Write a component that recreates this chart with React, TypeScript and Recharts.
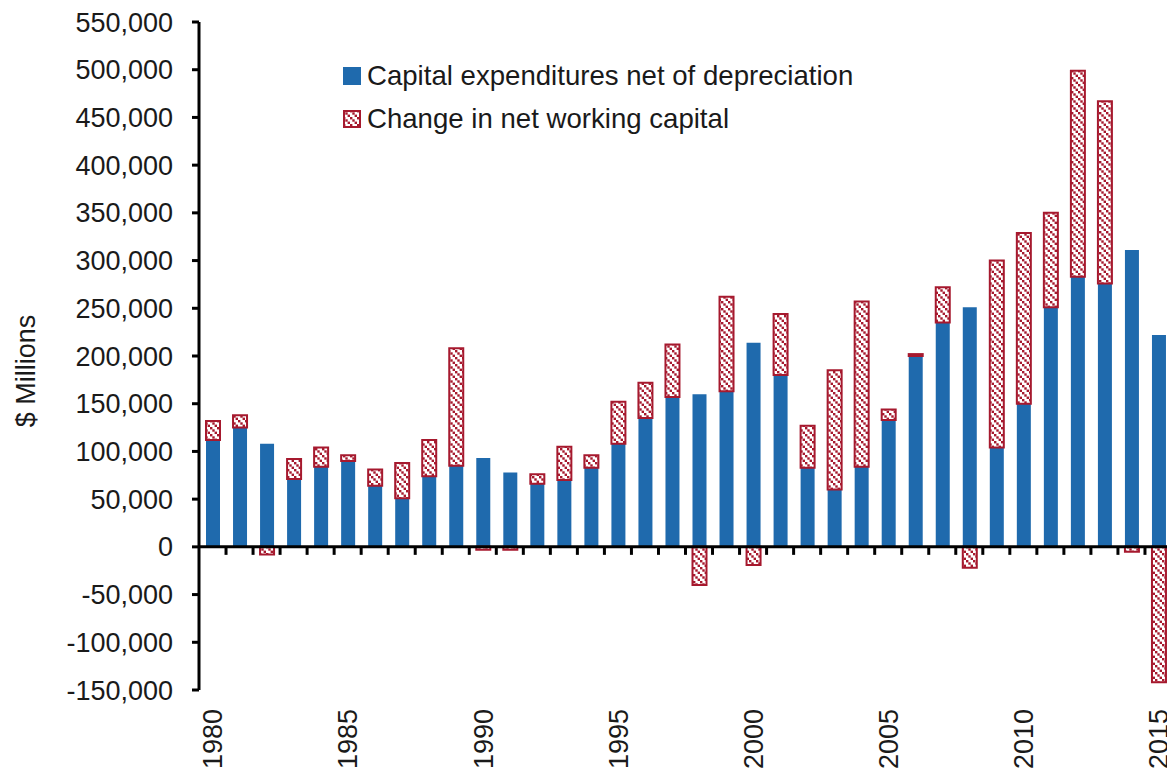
import { BarChart, Bar, XAxis, YAxis, ReferenceLine, Cell } from 'recharts';

const years = [
  1980, 1981, 1982, 1983, 1984, 1985, 1986, 1987, 1988, 1989,
  1990, 1991, 1992, 1993, 1994, 1995, 1996, 1997, 1998, 1999,
  2000, 2001, 2002, 2003, 2004, 2005, 2006, 2007, 2008, 2009,
  2010, 2011, 2012, 2013, 2014, 2015,
];

const capexNetDep = [
  112000, 125000, 108000, 71000, 84000, 90000, 64000, 51000, 74000, 85000,
  93000, 78000, 66000, 70000, 83000, 108000, 135000, 157000, 160000, 163000,
  214000, 180000, 83000, 60000, 84000, 133000, 200000, 235000, 251000, 104000,
  150000, 251000, 283000, 276000, 311000, 222000,
];

const nwcChange = [
  20000, 13000, -8000, 21000, 20000, 6000, 17000, 37000, 38000, 123000,
  -3000, -3000, 10000, 35000, 13000, 44000, 37000, 55000, -40000, 99000,
  -19000, 64000, 44000, 125000, 173000, 11000, 2000, 37000, -22000, 196000,
  179000, 99000, 216000, 191000, -5000, -142000,
];

const yTicks = [-150000, -100000, -50000, 0, 50000, 100000, 150000, 200000, 250000, 300000, 350000, 400000, 450000, 500000, 550000];

const BLUE = '#1f6aad';
const RED = '#a6192e';
const FONT = '"Liberation Sans", Arial, sans-serif';
const TEXT = '#1a1a1a';

const data = years.map((year, i) => ({ year, capex: capexNetDep[i], nwc: nwcChange[i] }));

function HatchDef({ id }: { id: string }) {
  return (
    <pattern id={id} width="7" height="7" patternUnits="userSpaceOnUse">
      <rect width="7" height="7" fill="#fff" />
      <rect x="0" y="0" width="2.4" height="2.4" fill={RED} />
      <rect x="2.3" y="2.3" width="2.4" height="2.4" fill={RED} />
      <rect x="4.6" y="4.6" width="2.4" height="2.4" fill={RED} />
    </pattern>
  );
}

// x-axis line at zero with a tick at every category boundary
function ZeroAxis(props: any) {
  const { x1, x2, y1 } = props;
  const step = (x2 - x1) / years.length;
  return (
    <g>
      <line x1={x1} x2={x2} y1={y1} y2={y1} stroke="#000" strokeWidth={3} />
      {years.map((_, i) => (
        <line key={i} x1={x1 + (i + 1) * step} x2={x1 + (i + 1) * step} y1={y1} y2={y1 + 8} stroke="#000" strokeWidth={3} />
      ))}
    </g>
  );
}

function YearTick(props: any) {
  const { x, y, payload } = props;
  if (payload.value % 5 !== 0) return null;
  return (
    <text x={x} y={y} dy="0.36em" transform={`rotate(-90, ${x}, ${y})`} textAnchor="end"
      fontSize={27} fontFamily={FONT} fill={TEXT}>
      {payload.value}
    </text>
  );
}

function YLabel(props: any) {
  const { viewBox } = props;
  const cy = viewBox.y + viewBox.height / 2 + 15;
  return (
    <text x={25} y={cy} dy="0.36em" transform={`rotate(-90, 25, ${cy})`} textAnchor="middle"
      fontSize={27} fontFamily={FONT} fill={TEXT}>
      $ Millions
    </text>
  );
}

function LegendBox() {
  const row = { display: 'flex', alignItems: 'center', height: 43, fontSize: 27.6, fontFamily: FONT, color: TEXT, whiteSpace: 'nowrap' as const };
  return (
    <div style={{ position: 'absolute', left: 343, top: 54 }}>
      <div style={row}>
        <div style={{ width: 18, height: 18, background: BLUE, marginRight: 6 }} />
        Capital expenditures net of depreciation
      </div>
      <div style={row}>
        <svg width={18} height={18} style={{ marginRight: 6 }}>
          <defs><HatchDef id="legendHatch" /></defs>
          <rect x={1} y={1} width={16} height={16} fill="url(#legendHatch)" stroke={RED} strokeWidth={2} />
        </svg>
        Change in net working capital
      </div>
    </div>
  );
}

export default function App() {
  return (
    <div style={{ position: 'absolute', left: 0, top: 0, width: 1167, height: 768, overflow: 'hidden', background: '#fff' }}>
      <BarChart width={1172} height={780} data={data} stackOffset="sign" barSize={14}
        margin={{ top: 22, right: 0, bottom: 0, left: 0 }}>
        <defs><HatchDef id="nwcHatch" /></defs>
        <XAxis dataKey="year" interval={0} axisLine={false} tickLine={false} tickSize={0} tickMargin={19}
          height={90} tick={<YearTick />} />
        <YAxis domain={[-150000, 550000]} ticks={yTicks} interval={0} width={199}
          axisLine={{ stroke: '#000', strokeWidth: 3 }} tickLine={{ stroke: '#000', strokeWidth: 3 }}
          tickSize={7} tickMargin={19}
          tick={{ fontSize: 27, fontFamily: FONT, fill: TEXT }}
          tickFormatter={(v: number) => v.toLocaleString('en-US')}
          label={<YLabel />} />
        <Bar dataKey="capex" stackId="a" fill={BLUE} isAnimationActive={false} />
        <Bar dataKey="nwc" stackId="a" fill="url(#nwcHatch)" stroke={RED} strokeWidth={2} isAnimationActive={false}>
          {data.map((_, i) => (
            <Cell key={i} fill="url(#nwcHatch)" stroke={RED} />
          ))}
        </Bar>
        <ReferenceLine y={0} shape={<ZeroAxis />} />
      </BarChart>
      <LegendBox />
    </div>
  );
}
